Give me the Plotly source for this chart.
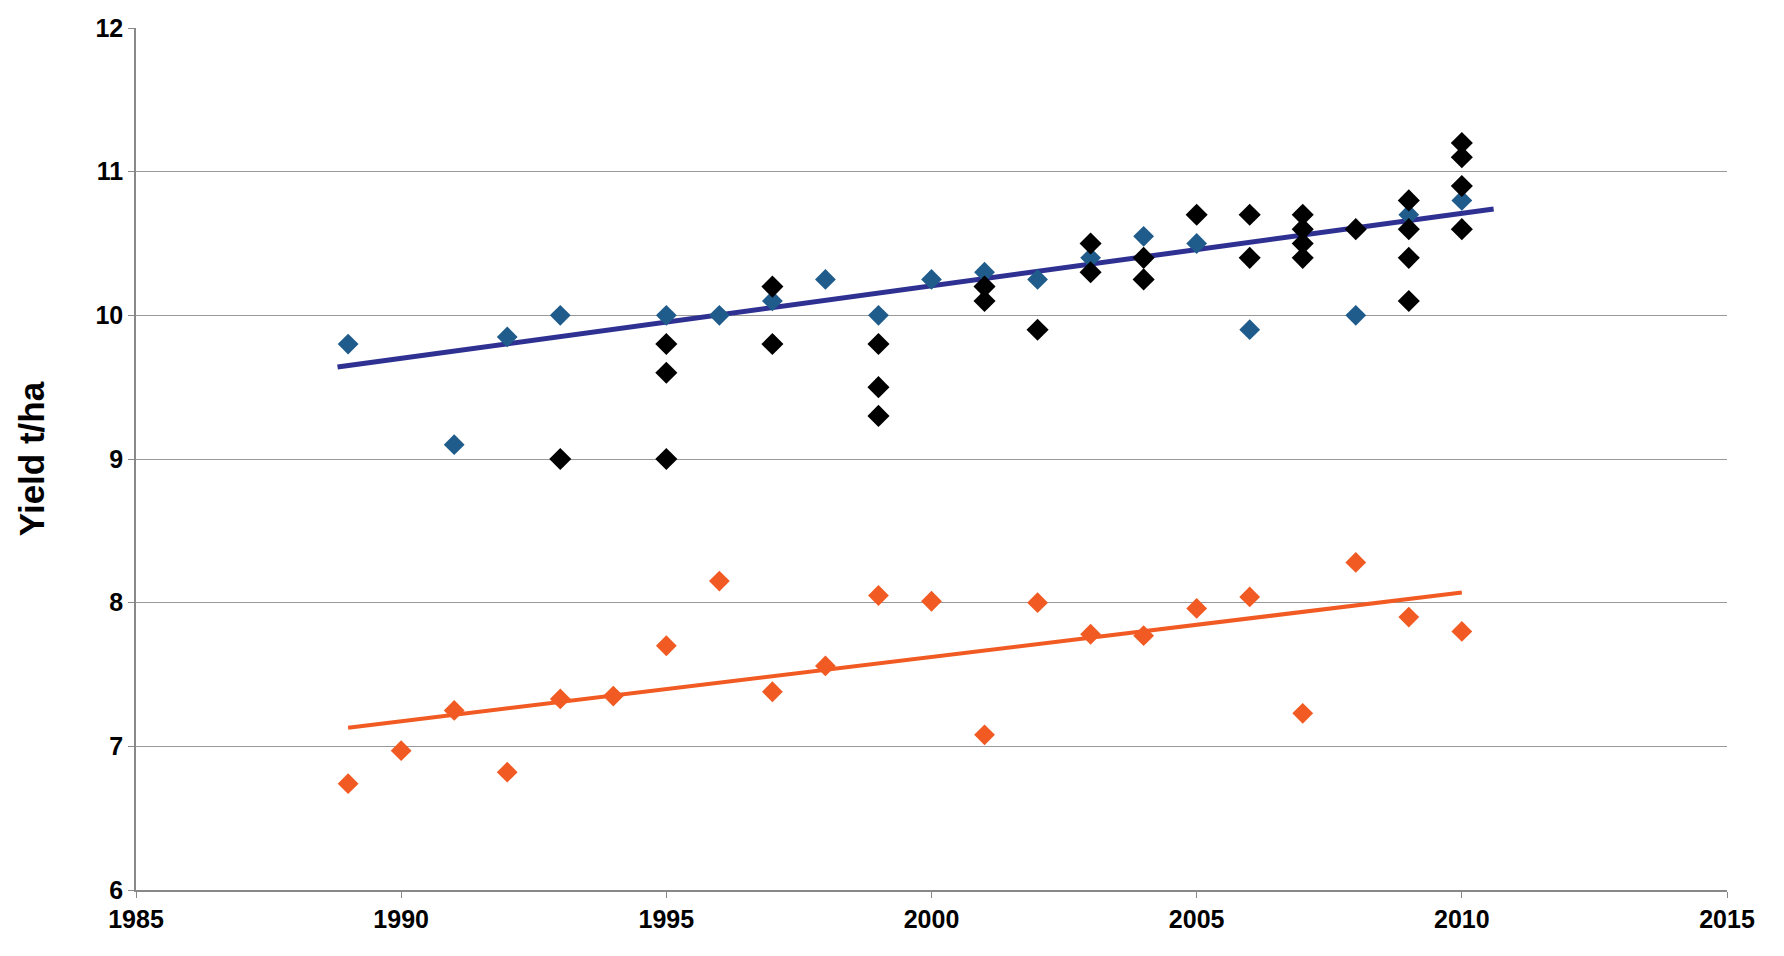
import plotly.graph_objects as go

blue_x = [1989,1991,1992,1993,1995,1996,1997,1998,1999,2000,2001,2002,2003,2004,2005,2006,2007,2008,2009,2010]
blue_y = [9.8,9.1,9.85,10.0,10.0,10.0,10.1,10.25,10.0,10.25,10.3,10.25,10.4,10.55,10.5,9.9,10.6,10.0,10.7,10.8]

black_x = [1993,1995,1995,1995,1997,1997,1999,1999,1999,2001,2001,2002,2003,2003,2004,2004,2005,2006,2006,
           2007,2007,2007,2007,2008,2009,2009,2009,2009,2010,2010,2010,2010]
black_y = [9.0,9.8,9.6,9.0,10.2,9.8,9.8,9.5,9.3,10.2,10.1,9.9,10.5,10.3,10.4,10.25,10.7,10.7,10.4,
           10.7,10.6,10.5,10.4,10.6,10.8,10.6,10.4,10.1,11.2,11.1,10.9,10.6]

orange_x = list(range(1989, 2011))
orange_y = [6.74,6.97,7.25,6.82,7.33,7.35,7.7,8.15,7.38,7.56,8.05,8.01,7.08,8.0,7.78,7.77,7.96,8.04,7.23,8.28,7.9,7.8]

blue_trend_x = [1988.8, 2010.6]
blue_trend_y = [9.64, 10.74]
orange_trend_x = [1989, 2010]
orange_trend_y = [7.13, 8.07]

fig = go.Figure()
fig.add_trace(go.Scatter(x=blue_trend_x, y=blue_trend_y, mode="lines", line=dict(color="#2E3192", width=5)))
fig.add_trace(go.Scatter(x=orange_trend_x, y=orange_trend_y, mode="lines", line=dict(color="#F15A22", width=4)))
fig.add_trace(go.Scatter(x=blue_x, y=blue_y, mode="markers",
                         marker=dict(symbol="diamond", size=16, color="#1F5C8B")))
fig.add_trace(go.Scatter(x=black_x, y=black_y, mode="markers",
                         marker=dict(symbol="diamond", size=17, color="#000000")))
fig.add_trace(go.Scatter(x=orange_x, y=orange_y, mode="markers",
                         marker=dict(symbol="diamond", size=16, color="#F15A22")))

fig.update_layout(
    width=1784, height=956, showlegend=False,
    paper_bgcolor="white", plot_bgcolor="white",
    margin=dict(l=128, r=65, t=20, b=74, autoexpand=False),
    font=dict(family="Liberation Sans, Arial", size=25, color="black"),
    xaxis=dict(range=[1985, 2015], tickvals=[1985,1990,1995,2000,2005,2010,2015],
               showgrid=False, showline=True, linecolor="#888888", linewidth=1.5,
               ticks="outside", ticklen=6, tickcolor="#888888",
               tickfont=dict(size=25, family="Liberation Sans", weight="bold"), zeroline=False),
    yaxis=dict(range=[6, 12], dtick=1, showgrid=True, gridcolor="#999999", gridwidth=1.2,
               showline=True, linecolor="#888888", linewidth=1.5,
               ticks="outside", ticklen=6, tickcolor="#888888",
               tickfont=dict(size=25, family="Liberation Sans", weight="bold"), zeroline=False,
               title=dict(text="<b>Yield t/ha</b>", font=dict(size=35), standoff=40)),
)
fig.write_html("out.html")
